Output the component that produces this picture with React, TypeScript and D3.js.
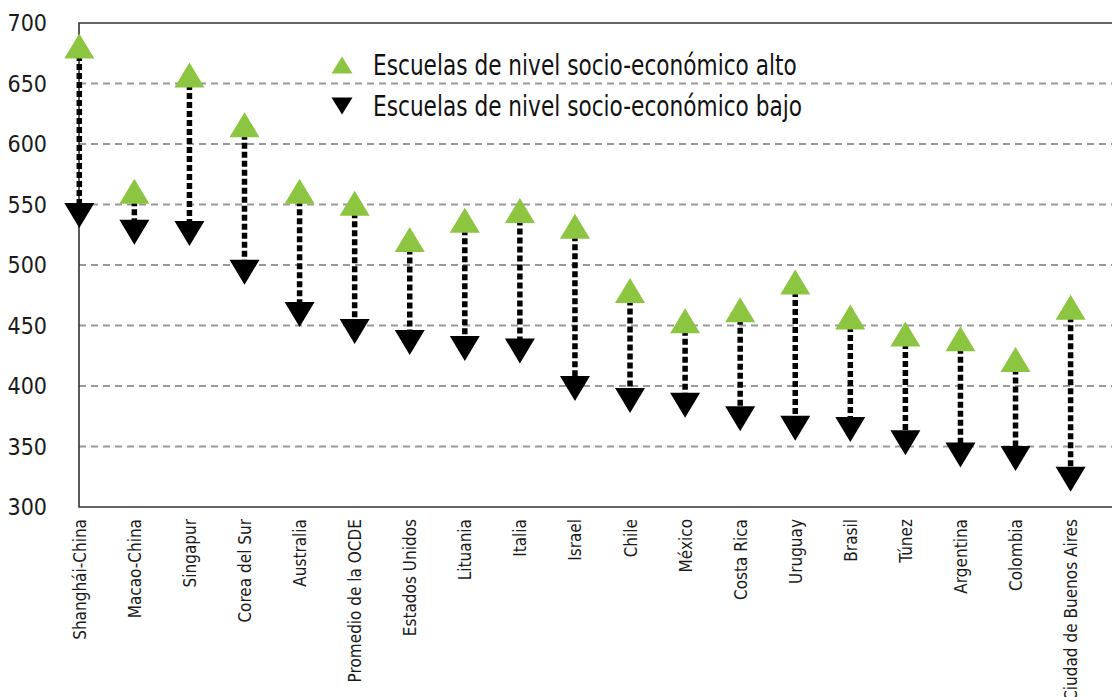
import React, { useEffect, useRef } from 'react';
import * as d3 from 'd3';

const categories = [
  'Shanghái-China', 'Macao-China', 'Singapur', 'Corea del Sur', 'Australia',
  'Promedio de la OCDE', 'Estados Unidos', 'Lituania', 'Italia', 'Israel',
  'Chile', 'México', 'Costa Rica', 'Uruguay', 'Brasil', 'Túnez',
  'Argentina', 'Colombia', 'Ciudad de Buenos Aires',
];
const highValues = [681, 561, 657, 616, 561, 551, 521, 537, 545, 532, 479, 454, 463, 486, 457, 443, 439, 422, 465];
const lowValues = [541, 527, 526, 494, 459, 445, 436, 431, 429, 398, 388, 384, 373, 365, 364, 353, 343, 340, 323];
const yTicks = [300, 350, 400, 450, 500, 550, 600, 650, 700];
const legendLabels = [
  'Escuelas de nivel socio-económico alto',
  'Escuelas de nivel socio-económico bajo',
];

const W = 1112;
const H = 697;
const FONT = '"Liberation Sans Narrow", "DejaVu Sans Condensed", "Roboto", sans-serif';
const GREEN = '#8cc53f';

const App: React.FC = () => {
  const svgRef = useRef<SVGSVGElement>(null);

  useEffect(() => {
    if (!svgRef.current) return;
    const svg = d3.select(svgRef.current);
    svg.selectAll('*').remove();

    const left = 79;
    const top = 23;
    const bottom = 507;

    const x = d3.scalePoint<string>().domain(categories).range([79.3, 1070.6]);
    const y = d3.scaleLinear().domain([300, 700]).range([bottom, top]);

    const data = categories.map((c, i) => ({ c, hi: highValues[i], lo: lowValues[i] }));

    // gridlines
    svg.append('g')
      .selectAll('line')
      .data(yTicks.filter(t => t > 300 && t < 700))
      .enter()
      .append('line')
      .attr('x1', left)
      .attr('x2', W)
      .attr('y1', d => y(d))
      .attr('y2', d => y(d))
      .attr('stroke', '#999')
      .attr('stroke-width', 2)
      .attr('stroke-dasharray', '7 5');

    // frame
    svg.append('path')
      .attr('d', `M${W + 5},${top}H${left}V${bottom}H${W + 5}`)
      .attr('fill', 'none')
      .attr('stroke', '#333')
      .attr('stroke-width', 1.6);

    // y tick labels
    svg.append('g')
      .selectAll('text')
      .data(yTicks)
      .enter()
      .append('text')
      .attr('x', 47)
      .attr('y', d => y(d))
      .attr('dy', '0.36em')
      .attr('text-anchor', 'end')
      .style('font-family', FONT)
      .style('font-size', '23px')
      .style('fill', '#1a1a1a')
      .text(d => d);

    // category labels
    svg.append('g')
      .selectAll('text')
      .data(categories)
      .enter()
      .append('text')
      .attr('transform', d => `translate(${x(d)},${bottom + 12}) rotate(-90) scale(0.92,1)`)
      .attr('dy', '0.35em')
      .attr('text-anchor', 'end')
      .style('font-family', FONT)
      .style('font-size', '18.5px')
      .style('fill', '#1a1a1a')
      .text(d => d);

    // dotted connectors
    svg.append('g')
      .selectAll('line')
      .data(data)
      .enter()
      .append('line')
      .attr('x1', d => x(d.c)!)
      .attr('x2', d => x(d.c)!)
      .attr('y1', d => y(d.hi))
      .attr('y2', d => y(d.lo))
      .attr('stroke', '#000')
      .attr('stroke-width', 5.5)
      .attr('stroke-dasharray', '6 3');

    const tri = (cx: number, cy: number, w: number, h: number, up: boolean) =>
      up
        ? `M${cx - w / 2},${cy + h / 2}L${cx + w / 2},${cy + h / 2}L${cx},${cy - h / 2}Z`
        : `M${cx - w / 2},${cy - h / 2}L${cx + w / 2},${cy - h / 2}L${cx},${cy + h / 2}Z`;

    // high markers
    svg.append('g')
      .selectAll('path')
      .data(data)
      .enter()
      .append('path')
      .attr('d', d => tri(x(d.c)!, y(d.hi), 30, 25, true))
      .attr('fill', GREEN);

    // low markers
    svg.append('g')
      .selectAll('path')
      .data(data)
      .enter()
      .append('path')
      .attr('d', d => tri(x(d.c)!, y(d.lo), 30, 25, false))
      .attr('fill', '#000');

    // legend
    const legend = svg.append('g');
    legendLabels.forEach((label, i) => {
      const ly = 65 + i * 41;
      legend.append('path')
        .attr('d', tri(342, ly, 21, 17, i === 0))
        .attr('fill', i === 0 ? GREEN : '#000');
      legend.append('text')
        .attr('transform', `translate(373,${ly + 10}) scale(0.86,1)`)
        .style('font-family', FONT)
        .style('font-size', '28px')
        .style('fill', '#111')
        .text(label);
    });
  }, []);

  return (
    <svg
      ref={svgRef}
      width={W}
      height={H}
      style={{ position: 'absolute', left: 0, top: 0, background: '#fff' }}
    />
  );
};

export default App;
